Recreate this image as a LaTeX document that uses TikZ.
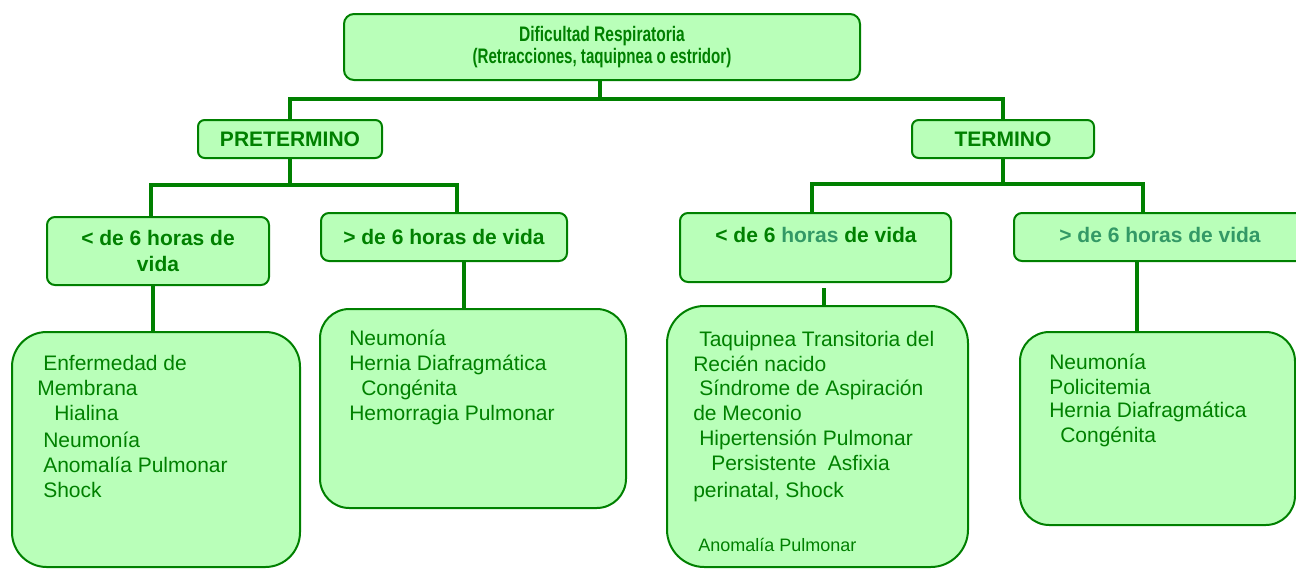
\documentclass[tikz,border=0pt]{standalone}
\usepackage{fontspec}
\setmainfont{Liberation Sans}
\definecolor{boxfill}{RGB}{185,255,185}
\definecolor{dgreen}{RGB}{0,128,0}
\definecolor{tealg}{RGB}{51,153,102}
\tikzset{
  box/.style={draw=dgreen, fill=boxfill, line width=1.5pt, inner sep=0pt, text=dgreen, align=center},
  wh/.style 2 args={minimum width=#1*0.75pt, minimum height=#2*0.75pt},
  conn/.style={draw=dgreen, line width=3pt},
  midfont/.style={font=\bfseries\fontsize{15.75}{19.5}\selectfont},
  txt/.style={anchor=base west, inner sep=0pt, text=dgreen, font=\fontsize{15.75}{19}\selectfont},
  smalltxt/.style={anchor=base west, inner sep=0pt, text=dgreen, font=\fontsize{13.5}{16}\selectfont},
}
\begin{document}
\begin{tikzpicture}[x=0.75pt,y=-0.75pt]
\useasboundingbox (0,0) rectangle (1296,569);

% title
\node[box, wh={516}{66}, rounded corners=7.5pt, font=\bfseries\fontsize{15.75}{16.3}\selectfont] (top) at (602,47)
  {\scalebox{0.74}[1]{Dificultad Respiratoria}\\\scalebox{0.72}[1]{(Retracciones, taquipnea o estridor)}};

% level 2
\node[box, wh={184}{38}, rounded corners=5pt, midfont] (pre) at (290,139) {PRETERMINO};
\node[box, wh={182}{38}, rounded corners=5pt, midfont] (ter) at (1003,139) {TERMINO};

% level 3
\node[box, wh={222}{68}, rounded corners=6pt, midfont] (l1) at (158,251) {< de 6 horas de\\vida};
\node[box, wh={246}{48}, rounded corners=6pt, midfont] (l2) at (444,237) {> de 6 horas de vida};
\node[box, wh={271}{69}, rounded corners=6pt] (r1) at (815.5,247.5) {};
\node[midfont, text=dgreen, inner sep=0pt] (r1t) at (816,235) {< de 6 \textcolor{tealg}{horas} de vida};
\node[box, wh={296}{48}, rounded corners=6pt] (r2) at (1162,237) {};
\node[midfont, text=tealg, inner sep=0pt] (r2t) at (1160,235) {> de 6 horas de vida};

% level 4
\node[box, wh={288}{235}, rounded corners=26pt] (b1) at (156,449.5) {};
\node[box, wh={306}{199}, rounded corners=22pt] (b2) at (473,408.5) {};
\node[box, wh={301}{261}, rounded corners=28pt] (b3) at (817.5,436.5) {};
\node[box, wh={275}{193}, rounded corners=22pt] (b4) at (1157.5,428.5) {};

\foreach \t/\x/\y [count=\i] in {Enfermedad de/43/370, Membrana/37/395, Hialina/54/420,
    Neumonía/43/447, Anomalía Pulmonar/43/472, Shock/43/497}
  \node[txt] (b1t\i) at (\x,\y) {\t};
\foreach \t/\x/\y [count=\i] in {Neumonía/349/345, Hernia Diafragmática/349/370,
    Congénita/361/395, Hemorragia Pulmonar/349/420}
  \node[txt] (b2t\i) at (\x,\y) {\t};
\foreach \t/\x/\y [count=\i] in {Taquipnea Transitoria del/699/346, Recién nacido/693/371,
    Síndrome de Aspiración/699/395, de Meconio/693/420, Hipertensión Pulmonar/699/445,
    Persistente\ \ Asfixia/711/470, {perinatal, Shock}/693/497}
  \node[txt] (b3t\i) at (\x,\y) {\t};
\node[smalltxt] (b3t8) at (698,551) {Anomalía Pulmonar};
\foreach \t/\x/\y [count=\i] in {Neumonía/1049/369, Policitemia/1049/394,
    Hernia Diafragmática/1049/417, Congénita/1060/442}
  \node[txt] (b4t\i) at (\x,\y) {\t};

% connectors
\coordinate (j0) at (600,99);
\draw[conn] (top.south -| j0) -- (j0);
\draw[conn] (pre.north) -- (pre.north |- j0) -- (ter.north |- j0) -- (ter.north);

\coordinate (pl) at (151,185);
\coordinate (pr) at (457,185);
\draw[conn] (pre.south) -- (pre.south |- pl);
\draw[conn] (pl |- l1.north) -- (pl) -- (pr) -- (pr |- l2.north);

\coordinate (tl) at (812,184);
\coordinate (tr) at (1143,184);
\draw[conn] (ter.south) -- (ter.south |- tl);
\draw[conn] (tl |- r1.north) -- (tl) -- (tr) -- (tr |- r2.north);

\coordinate (s1) at (153,0);
\coordinate (s2) at (464,0);
\coordinate (s3) at (824,0);
\coordinate (s4) at (1137,0);
\draw[conn] (l1.south -| s1) -- (b1.north -| s1);
\draw[conn] (l2.south -| s2) -- (b2.north -| s2);
\draw[conn, shorten <=4pt] (r1.south -| s3) -- (b3.north -| s3);
\draw[conn] (r2.south -| s4) -- (b4.north -| s4);
\end{tikzpicture}
\end{document}
